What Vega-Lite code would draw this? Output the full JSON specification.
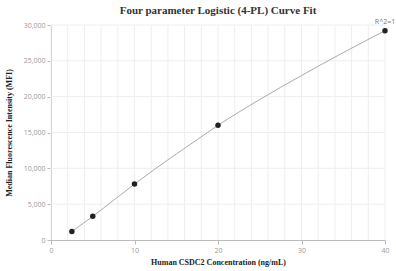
{
  "$schema": "https://vega.github.io/schema/vega-lite/v6.json",
  "width": 334,
  "height": 215,
  "padding": {"left": 5, "top": 4, "right": 10, "bottom": 1},
  "background": "white",
  "title": {"text": "Four parameter Logistic (4-PL) Curve Fit", "font": "Liberation Serif", "fontSize": 11, "fontWeight": "bold", "color": "#333333", "offset": 2},
  "config": {"view": {"stroke": null}, "axis": {"labelOverlap": false, "labelFlush": false, "grid": false, "labelFont": "Open Sans", "labelFontSize": 7, "labelColor": "#999999", "domainColor": "#bbbbbb", "tickColor": "#bbbbbb", "tickSize": 4, "titleFont": "Liberation Serif", "titleFontSize": 8, "titleFontWeight": "bold", "titleColor": "#222222"}},
  "datasets": {
    "points": [
      {"conc": 2.5, "mfi": 1200},
      {"conc": 5, "mfi": 3300},
      {"conc": 10, "mfi": 7800},
      {"conc": 20, "mfi": 16000},
      {"conc": 40, "mfi": 29200}
    ],
    "curve": [
      {"conc": 2.5, "mfi": 1200},
      {"conc": 5, "mfi": 3300},
      {"conc": 7.5, "mfi": 5550},
      {"conc": 10, "mfi": 7800},
      {"conc": 12.5, "mfi": 9950},
      {"conc": 15, "mfi": 12000},
      {"conc": 17.5, "mfi": 14000},
      {"conc": 20, "mfi": 16000},
      {"conc": 25, "mfi": 19600},
      {"conc": 30, "mfi": 22950},
      {"conc": 35, "mfi": 26150},
      {"conc": 40, "mfi": 29200}
    ],
    "label": [{"conc": 40, "mfi": 29200, "t": "R^2=1"}],
    "xgrid": [{"conc": 0}, {"conc": 2}, {"conc": 4}, {"conc": 6}, {"conc": 8}, {"conc": 10}, {"conc": 12}, {"conc": 14}, {"conc": 16}, {"conc": 18}, {"conc": 20}, {"conc": 22}, {"conc": 24}, {"conc": 26}, {"conc": 28}, {"conc": 30}, {"conc": 32}, {"conc": 34}, {"conc": 36}, {"conc": 38}, {"conc": 40}],
    "ygrid": [{"mfi": 5000}, {"mfi": 10000}, {"mfi": 15000}, {"mfi": 20000}, {"mfi": 25000}, {"mfi": 30000}]
  },
  "layer": [
    {
      "data": {"name": "xgrid"},
      "mark": {"type": "rule", "color": "#eeeeee", "strokeWidth": 1},
      "encoding": {"x": {"field": "conc", "type": "quantitative", "scale": {"domain": [0, 40], "nice": false},
          "axis": {"title": "Human CSDC2 Concentration (ng/mL)", "titlePadding": 5, "values": [0, 10, 20, 30, 40]}}}
    },
    {
      "data": {"name": "ygrid"},
      "mark": {"type": "rule", "color": "#eeeeee", "strokeWidth": 1},
      "encoding": {"y": {"field": "mfi", "type": "quantitative", "scale": {"domain": [0, 30000], "nice": false},
          "axis": {"title": "Median Fluorescence Intensity (MFI)", "titlePadding": 10, "values": [0, 5000, 10000, 15000, 20000, 25000, 30000]}}}
    },
    {
      "data": {"name": "curve"},
      "mark": {"type": "line", "color": "#aaaaaa", "strokeWidth": 1, "interpolate": "monotone"},
      "encoding": {
        "x": {"field": "conc", "type": "quantitative", "scale": {"domain": [0, 40], "nice": false},
          "axis": {"title": "Human CSDC2 Concentration (ng/mL)", "titlePadding": 5, "values": [0, 10, 20, 30, 40]}},
        "y": {"field": "mfi", "type": "quantitative", "scale": {"domain": [0, 30000], "nice": false},
          "axis": {"title": "Median Fluorescence Intensity (MFI)", "titlePadding": 10, "values": [0, 5000, 10000, 15000, 20000, 25000, 30000]}}
      }
    },
    {
      "data": {"name": "points"},
      "mark": {"type": "circle", "color": "#222222", "opacity": 1, "size": 30},
      "encoding": {
        "x": {"field": "conc", "type": "quantitative", "scale": {"domain": [0, 40], "nice": false},
          "axis": {"title": "Human CSDC2 Concentration (ng/mL)", "titlePadding": 5, "values": [0, 10, 20, 30, 40]}},
        "y": {"field": "mfi", "type": "quantitative", "scale": {"domain": [0, 30000], "nice": false},
          "axis": {"title": "Median Fluorescence Intensity (MFI)", "titlePadding": 10, "values": [0, 5000, 10000, 15000, 20000, 25000, 30000]}}
      }
    },
    {
      "data": {"name": "label"},
      "mark": {"type": "text", "font": "Open Sans", "fontSize": 7, "color": "#777777", "dy": -9, "align": "center"},
      "encoding": {
        "x": {"field": "conc", "type": "quantitative", "scale": {"domain": [0, 40], "nice": false},
          "axis": {"title": "Human CSDC2 Concentration (ng/mL)", "titlePadding": 5, "values": [0, 10, 20, 30, 40]}},
        "y": {"field": "mfi", "type": "quantitative", "scale": {"domain": [0, 30000], "nice": false},
          "axis": {"title": "Median Fluorescence Intensity (MFI)", "titlePadding": 10, "values": [0, 5000, 10000, 15000, 20000, 25000, 30000]}},
        "text": {"field": "t"}
      }
    }
  ]
}
